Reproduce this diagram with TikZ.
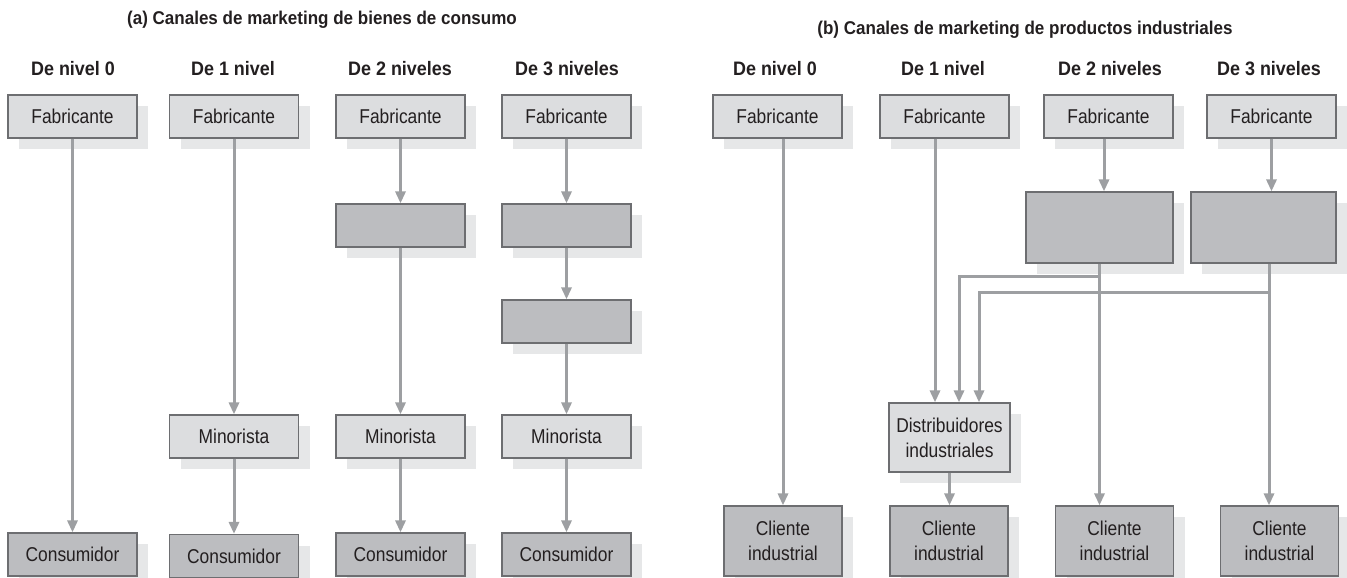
\documentclass[tikz,border=0pt]{standalone}
\usepackage{fontspec}
\setmainfont{Liberation Sans}
\newfontfamily\boxfont{Liberation Sans}[FakeStretch=0.87]
\newfontfamily\headfont{Liberation Sans}[FakeStretch=0.92]
\usetikzlibrary{arrows.meta,shadows}
\definecolor{boxlight}{HTML}{DCDDDF}
\definecolor{boxdark}{HTML}{BCBDC0}
\definecolor{boxshade}{HTML}{E6E7E8}
\definecolor{boxline}{HTML}{6D6E71}
\definecolor{arrowgray}{HTML}{9D9FA2}
\definecolor{inkgray}{HTML}{231F20}

\begin{document}
\begin{tikzpicture}[x=1pt,y=-1pt,
  box/.style={draw=boxline, line width=1.2pt, inner sep=0pt, text=inkgray, align=center,
    font=\boxfont\fontsize{20}{25}\selectfont,
    minimum width=129pt, minimum height=43pt,
    general shadow={fill=boxshade, shadow xshift=11pt, shadow yshift=-11pt}},
  light/.style={box, fill=boxlight},
  dark/.style={box, fill=boxdark},
  title/.style={font=\headfont\bfseries\fontsize{18.5}{20}\selectfont, text=inkgray},
  head/.style={font=\headfont\bfseries\fontsize{19.5}{20}\selectfont, text=inkgray},
  arr/.style={draw=arrowgray, line width=3pt, -{Triangle[length=12pt,width=10pt]}}]
\useasboundingbox (0,0) rectangle (1347,578);

% (a) bienes de consumo
\node[title] (ta) at (322,20) {(a) Canales de marketing de bienes de consumo};
\foreach \x/\t/\n in {73/De nivel 0/1,233/De 1 nivel/2,400/De 2 niveles/3,567/De 3 niveles/4}
  \node[head] (ha\n) at (\x,69) {\t};
\foreach \x/\n in {72.5/1,234/2,400.5/3,566.5/4}
  \node[light] (fa\n) at (\x,116.5) {Fabricante};
\node[dark] (ia3) at (400.5,225.5) {};
\node[dark] (ia4) at (566.5,225.5) {};
\node[dark] (ja4) at (566.5,321.5) {};
\foreach \x/\n in {234/2,400.5/3,566.5/4}
  \node[light] (ma\n) at (\x,436.5) {Minorista};
\node[dark] (ca1) at (72.5,554.5) {Consumidor};
\node[dark] (ca2) at (234,556) {Consumidor};
\node[dark] (ca3) at (400.5,554.5) {Consumidor};
\node[dark] (ca4) at (566.5,554.5) {Consumidor};

\draw[arr] (fa1) -- (ca1);
\draw[arr] (fa2) -- (ma2);
\draw[arr] (ma2) -- (ca2);
\draw[arr] (fa3) -- (ia3);
\draw[arr] (ia3) -- (ma3);
\draw[arr] (ma3) -- (ca3);
\draw[arr] (fa4) -- (ia4);
\draw[arr] (ia4) -- (ja4);
\draw[arr] (ja4) -- (ma4);
\draw[arr] (ma4) -- (ca4);

% (b) productos industriales
\node[title] (tb) at (1025,30) {(b) Canales de marketing de productos industriales};
\foreach \x/\t/\n in {775/De nivel 0/1,943/De 1 nivel/2,1110/De 2 niveles/3,1269/De 3 niveles/4}
  \node[head] (hb\n) at (\x,69) {\t};
\foreach \x/\n in {777.5/1,944.5/2,1108.5/3,1271.5/4}
  \node[light] (fb\n) at (\x,116.5) {Fabricante};
\node[dark, minimum width=147pt, minimum height=71pt] (ib3) at (1099.5,227.5) {};
\node[dark, minimum width=145pt, minimum height=71pt] (ib4) at (1263.5,227.5) {};
\node[light, minimum width=121pt, minimum height=69pt] (di) at (949.5,437.5) {Distribuidores\\industriales};
\foreach \x/\n in {783/1,949/2,1114.5/3,1279.5/4}
  \node[dark, minimum width=118pt, minimum height=70pt] (cb\n) at (\x,541) {Cliente\\industrial};

\coordinate (d1) at ([xshift=-14.5pt]di.north);
\coordinate (d2) at ([xshift=9.5pt]di.north);
\coordinate (d3) at ([xshift=29.5pt]di.north);
\coordinate (s3) at ([xshift=-4.5pt]fb3.south);
\coordinate (s4) at ([xshift=5.5pt]ib4.south);
\coordinate (b3) at ([yshift=-13pt]ib3.south);
\coordinate (b4) at ([yshift=-29pt]s4);

\draw[arr] (fb1.south -| cb1.north) -- (cb1.north);
\draw[arr] (fb2.south -| d1) -- (d1);
\draw[arr] (di.south) -- (di.south |- cb2.north);
\draw[arr] (s3) -- (s3 |- ib3.north);
\draw[arr] (ib3.south) -- (ib3.south |- cb3.north);
\draw[arr] (b3) -| (d2);
\draw[arr] (fb4.south) -- (fb4.south |- ib4.north);
\draw[arr] (s4) -- (s4 |- cb4.north);
\draw[arr] (b4) -| (d3);
\end{tikzpicture}
\end{document}
